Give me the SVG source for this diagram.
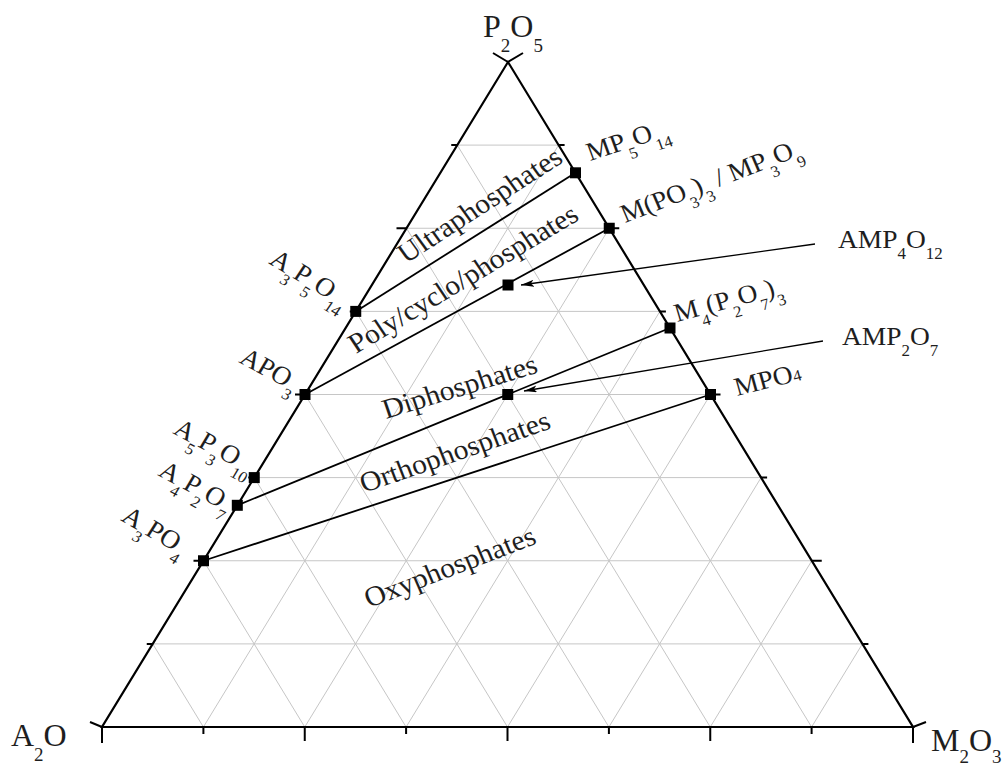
<svg xmlns="http://www.w3.org/2000/svg" width="1008" height="765" viewBox="0 0 1008 765">
<style>
.edge{stroke:#000;stroke-width:2.2;fill:none;stroke-linejoin:miter}
.grid{stroke:#c6c6c6;stroke-width:1;fill:none}
.tick{stroke:#000;stroke-width:2;fill:none}
.tie{stroke:#000;stroke-width:1.8;fill:none}
.arr{stroke:#000;stroke-width:1.3;fill:none}
.pt{fill:#000}
.lbl{font-family:"Liberation Serif","Times New Roman",serif;font-size:26px;fill:#1e1e1e}
.reg{font-size:28px}
.big{font-size:32px}
.sub{font-size:16px}
.bsub{font-size:19px}
</style>
<defs>
<marker id="ah" markerUnits="userSpaceOnUse" markerWidth="14" markerHeight="8" refX="13" refY="3.5" orient="auto">
<path d="M0,0 L13,3.5 L0,7 L3,3.5 z" fill="#000"/>
</marker>
</defs>
<rect width="1008" height="765" fill="#fff"/>
<g id="grid">
<path class="grid" d="M152.75,643.9 H862.4 M203.5,560.75 H811.75 M254.25,477.6 H761.1 M305,394.5 H710.5 M355.75,311.4 H659.9 M406.5,228.25 H609.25 M457.25,145.1 H558.6"/>
<path class="grid" d="M203.4,727 L558.6,145.1 M304.75,727 L609.25,228.25 M406.1,727 L659.9,311.4 M507.5,727 L710.5,394.5 M608.9,727 L761.1,477.6 M710.25,727 L811.75,560.75 M811.6,727 L862.4,643.9"/>
<path class="grid" d="M203.4,727 L152.75,643.9 M304.75,727 L203.5,560.75 M406.1,727 L254.25,477.6 M507.5,727 L305,394.5 M608.9,727 L355.75,311.4 M710.25,727 L406.5,228.25 M811.6,727 L457.25,145.1"/>
</g>
<g id="triangle">
<path class="edge" d="M102,727 L913,727 L508,62 Z"/>
<path class="tick" d="M102,727 v16 M203.4,727 v7 M304.75,727 v14 M406.1,727 v7 M507.5,727 v14 M608.9,727 v7 M710.25,727 v14 M811.6,727 v7 M913,727 v16"/>
<path class="tick" d="M102,727 l-12,-5 M152.75,643.9 h-6 M203.5,560.75 h-10 M254.25,477.6 h-6 M305,394.5 h-10 M355.75,311.4 h-6 M406.5,228.25 h-10 M457.25,145.1 h-6 M508,62 l-15,-9"/>
<path class="tick" d="M913,727 l13,-5 M862.4,643.9 h6 M811.75,560.75 h10 M761.1,477.6 h6 M710.5,394.5 h10 M659.9,311.4 h6 M609.25,228.25 h10 M558.6,145.1 h6 M508,62 l15,-9"/>
</g>
<g id="corner-labels">
<text class="lbl big" x="483" y="37">P<tspan class="bsub" dy="15">2</tspan><tspan dy="-15">O</tspan><tspan class="bsub" dy="15">5</tspan></text>
<text class="lbl big" x="11" y="746">A<tspan class="bsub" dy="15">2</tspan><tspan dy="-15">O</tspan></text>
<text class="lbl big" x="931" y="751">M<tspan class="bsub" dy="12">2</tspan><tspan dy="-12">O</tspan><tspan class="bsub" dy="12">3</tspan></text>
</g>
<g id="connectors">
<line class="tie" x1="355.75" y1="311.4" x2="575.5" y2="172.8"/>
<line class="tie" x1="305" y1="394.5" x2="609.25" y2="228.25"/>
<line class="tie" x1="237.3" y1="505.3" x2="670" y2="328"/>
<line class="tie" x1="203.5" y1="560.75" x2="710.5" y2="394.5"/>
<line class="arr" x1="815" y1="244" x2="521" y2="285" marker-end="url(#ah)"/>
<line class="arr" x1="823" y1="341" x2="524" y2="391" marker-end="url(#ah)"/>
</g>
<g id="regions">
<g transform="translate(406,264) scale(1.056,1) rotate(-34.4)"><text class="lbl reg">Ultraphosphates</text></g>
<g transform="translate(356,354) scale(1.056,1) rotate(-32.4)"><text class="lbl reg">Poly/cyclo/phosphates</text></g>
<g transform="translate(386,419) scale(1.056,1) rotate(-17.9)"><text class="lbl reg">Diphosphates</text></g>
<g transform="translate(364,493) scale(1.056,1) rotate(-20)"><text class="lbl reg">Orthophosphates</text></g>
<g transform="translate(369,608) scale(1.056,1) rotate(-22.1)"><text class="lbl reg">Oxyphosphates</text></g>
</g>
<g id="n-MP5O14">
<rect class="pt" x="570" y="167.3" width="11" height="11"/>
<g transform="translate(590,161) scale(1.056,1) rotate(-18.9)"><text class="lbl">MP<tspan class="sub" dy="11">5</tspan><tspan dy="-11">O</tspan><tspan class="sub" dy="11">14</tspan></text></g>
</g>
<g id="n-MPO33">
<rect class="pt" x="603.75" y="222.75" width="11" height="11"/>
<g transform="translate(625,223) scale(1.056,1) rotate(-22.1)"><text class="lbl">M(PO<tspan class="sub" dy="11">3</tspan><tspan dy="-11">)</tspan><tspan class="sub" dy="11">3</tspan><tspan dy="-11"> / MP</tspan><tspan class="sub" dy="11">3</tspan><tspan dy="-11">O</tspan><tspan class="sub" dy="11">9</tspan></text></g>
</g>
<g id="n-AMP4O12">
<rect class="pt" x="502.5" y="279.5" width="11" height="11"/>
<text class="lbl" transform="translate(838,248) scale(1.056,1)">AMP<tspan class="sub" dy="11">4</tspan><tspan dy="-11">O</tspan><tspan class="sub" dy="11">12</tspan></text>
</g>
<g id="n-A3P5O14">
<rect class="pt" x="350.25" y="305.9" width="11" height="11"/>
<g transform="translate(268,263) scale(1.056,1) rotate(32.4)"><text class="lbl">A<tspan class="sub" dy="11">3</tspan><tspan dy="-11">P</tspan><tspan class="sub" dy="11">5</tspan><tspan dy="-11">O</tspan><tspan class="sub" dy="11">14</tspan></text></g>
</g>
<g id="n-M4P2O73">
<rect class="pt" x="664.5" y="322.5" width="11" height="11"/>
<g transform="translate(677,322) scale(1.056,1) rotate(-15.8)"><text class="lbl">M<tspan class="sub" dy="11">4</tspan><tspan dy="-11">(P</tspan><tspan class="sub" dy="11">2</tspan><tspan dy="-11">O</tspan><tspan class="sub" dy="11">7</tspan><tspan dy="-11">)</tspan><tspan class="sub" dy="11">3</tspan></text></g>
</g>
<g id="n-AMP2O7">
<rect class="pt" x="502.25" y="389" width="11" height="11"/>
<text class="lbl" transform="translate(842,345) scale(1.056,1)">AMP<tspan class="sub" dy="11">2</tspan><tspan dy="-11">O</tspan><tspan class="sub" dy="11">7</tspan></text>
</g>
<g id="n-APO3">
<rect class="pt" x="299.5" y="389" width="11" height="11"/>
<g transform="translate(238,362) scale(1.056,1) rotate(29.3)"><text class="lbl">APO<tspan class="sub" dy="11">3</tspan></text></g>
</g>
<g id="n-MPO4">
<rect class="pt" x="705" y="389" width="11" height="11"/>
<g transform="translate(737,396) scale(1.056,1) rotate(-14.75)"><text class="lbl">MPO<tspan class="sub">4</tspan></text></g>
</g>
<g id="n-A5P3O10">
<rect class="pt" x="248.75" y="472.1" width="11" height="11"/>
<g transform="translate(172,433) scale(1.056,1) rotate(29.3)"><text class="lbl">A<tspan class="sub" dy="11">5</tspan><tspan dy="-11">P</tspan><tspan class="sub" dy="11">3</tspan><tspan dy="-11">O</tspan><tspan class="sub" dy="11">10</tspan></text></g>
</g>
<g id="n-A4P2O7">
<rect class="pt" x="231.8" y="499.8" width="11" height="11"/>
<g transform="translate(157,475) scale(1.056,1) rotate(29.3)"><text class="lbl">A<tspan class="sub" dy="11">4</tspan><tspan dy="-11">P</tspan><tspan class="sub" dy="11">2</tspan><tspan dy="-11">O</tspan><tspan class="sub" dy="11">7</tspan></text></g>
</g>
<g id="n-A3PO4">
<rect class="pt" x="198" y="555.25" width="11" height="11"/>
<g transform="translate(120,520) scale(1.056,1) rotate(31.4)"><text class="lbl">A<tspan class="sub" dy="11">3</tspan><tspan dy="-11">PO</tspan><tspan class="sub" dy="11">4</tspan></text></g>
</g>
</svg>
